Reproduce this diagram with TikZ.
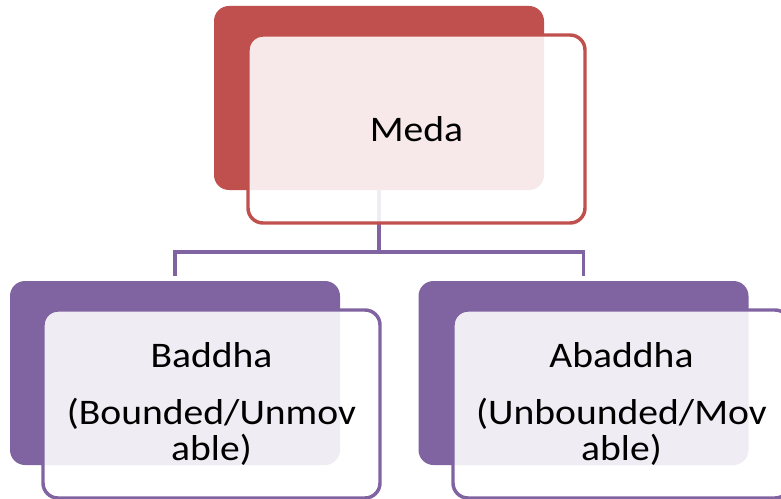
\documentclass[tikz,border=0pt]{standalone}
\usepackage{fontspec}
\setmainfont{Carlito}[FakeStretch=1.1]
\usetikzlibrary{calc}
\definecolor{medared}{HTML}{C0504D}
\definecolor{medapurple}{HTML}{8064A2}
\begin{document}
\begin{tikzpicture}[x=0.75pt,y=-0.75pt,
  back/.style={rounded corners=11.25pt, minimum width=247.5pt, minimum height=138pt, inner sep=0pt},
  front/.style={rounded corners=11.25pt, minimum width=252.75pt, minimum height=141pt, inner sep=0pt,
    line width=2.6pt, fill=white, fill opacity=0.88, text opacity=1, align=center,
    font=\fontsize{27}{26.7}\selectfont},
  conn/.style={draw=medapurple, line width=2.6pt}]
\path[use as bounding box] (0,0) rectangle (781,499);
\clip (0,0) rectangle (781,499);
% back boxes
\node[back, fill=medared] (topdark) at (379,98) {};
\node[back, fill=medapurple] (leftdark) at (175,373) {};
\node[back, fill=medapurple] (rightdark) at (583.5,373) {};
% connectors
\coordinate (junc) at (379,252);
\draw[conn, shorten >=3.75pt] (topdark.south) |- (junc) -| (leftdark.north);
\draw[conn, shorten >=3.75pt] (junc) -| (rightdark.north);
% front boxes
\node[front, draw=medared] (topfront) at (416.5,129) {Meda};
\node[front, draw=medapurple] (leftfront) at (211.5,404) {Baddha\\[16pt](Bounded/Unmov\\able)};
\node[front, draw=medapurple] (rightfront) at (621.5,404) {Abaddha\\[16pt](Unbounded/Mov\\able)};
\end{tikzpicture}
\end{document}
